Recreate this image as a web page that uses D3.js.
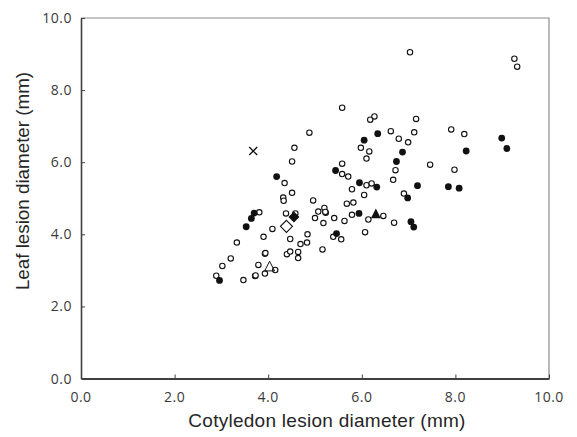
<!DOCTYPE html>
<html lang="en">
<head>
    <meta charset="UTF-8">
    <title>Cotyledon vs leaf lesion diameter</title>
    <script src="https://d3js.org/d3.v7.min.js"></script>
    <style>
        body {
            margin: 0;
            background: white;
        }
        svg {
            display: block;
        }
        .tick-label {
            font-family: "Open Sans", sans-serif;
            font-size: 14px;
            letter-spacing: 0.5px;
            fill: #3a3a3a;
        }
        .axis-title {
            font-family: "Liberation Sans", Arial, sans-serif;
            fill: #262626;
        }
    </style>
</head>
<body>
    <svg id="chart"></svg>

    <script>
        // [cotyledon, leaf] lesion diameters (mm)
        const openCircles = [
            [7.03, 9.05], [9.26, 8.87], [9.32, 8.65], [5.58, 7.51], [6.18, 7.18],
            [6.27, 7.27], [7.16, 7.20], [4.88, 6.82], [6.62, 6.86], [6.79, 6.65],
            [7.12, 6.83], [6.99, 6.55], [7.91, 6.91], [8.19, 6.78], [5.98, 6.40],
            [6.16, 6.30], [6.10, 6.10], [4.56, 6.40], [4.51, 6.02], [7.46, 5.93],
            [7.98, 5.79], [5.58, 5.96], [5.58, 5.67], [5.71, 5.60], [6.72, 5.78],
            [6.67, 5.51], [4.35, 5.42], [6.10, 5.36], [6.21, 5.41], [5.79, 5.25],
            [6.05, 5.09], [4.51, 5.15], [6.90, 5.13], [4.32, 5.02], [4.33, 4.93],
            [4.96, 4.94], [5.68, 4.85], [5.82, 4.88], [5.20, 4.73], [5.07, 4.63],
            [5.23, 4.60], [5.22, 4.62], [3.81, 4.61], [4.38, 4.58], [4.58, 4.58],
            [5.00, 4.45], [5.18, 4.31], [5.41, 4.45], [5.63, 4.37], [5.79, 4.54],
            [6.14, 4.41], [6.46, 4.51], [6.69, 4.32], [4.09, 4.15], [3.90, 3.93],
            [3.33, 3.77], [4.47, 3.87], [4.84, 4.00], [4.69, 3.73], [4.83, 3.77],
            [5.39, 3.93], [5.56, 3.86], [6.07, 4.06], [5.16, 3.58], [3.93, 3.46],
            [3.94, 3.48], [4.40, 3.45], [4.47, 3.52], [4.64, 3.51], [4.64, 3.34],
            [3.20, 3.33], [3.02, 3.12], [3.79, 3.15], [4.15, 3.01], [3.93, 2.91],
            [2.89, 2.85], [3.72, 2.84], [3.73, 2.86], [3.47, 2.73]
        ];

        const filledCircles = [
            [6.34, 6.79], [6.05, 6.61], [8.99, 6.67], [9.10, 6.38], [8.23, 6.31],
            [6.87, 6.28], [6.74, 6.02], [5.44, 5.77], [4.18, 5.60], [5.95, 5.43],
            [6.32, 5.31], [7.19, 5.35], [7.85, 5.32], [8.08, 5.28], [6.98, 5.01],
            [3.70, 4.59], [3.64, 4.44], [3.53, 4.21], [5.94, 4.58], [7.05, 4.35],
            [7.11, 4.20], [5.46, 4.02], [2.96, 2.72]
        ];

        const crossPoints = [[3.68, 6.31]];
        const filledDiamonds = [[4.55, 4.48]];
        const openDiamonds = [[4.39, 4.22]];
        const openTriangles = [[4.03, 3.10]];
        const filledTriangles = [[6.30, 4.56]];

        const xTicks = [0, 2, 4, 6, 8, 10];
        const yTicks = [0, 2, 4, 6, 8, 10];

        const width = 577;
        const height = 437;
        const margin = { top: 18, right: 28, bottom: 58, left: 81 };

        const svg = d3.select('#chart')
            .attr('width', width)
            .attr('height', height);

        const x = d3.scaleLinear()
            .domain([0, 10])
            .range([margin.left, width - margin.right]);

        const y = d3.scaleLinear()
            .domain([0, 10])
            .range([height - margin.bottom - 0.5, margin.top]);

        // top and right frame, light grey
        svg.append('path')
            .attr('d', `M${x(0)},${y(10)} H${x(10)} V${y(0)}`)
            .attr('fill', 'none')
            .attr('stroke', '#8a8a8a')
            .attr('stroke-width', 1.2);

        // x axis
        const xAxis = svg.append('g')
            .attr('transform', `translate(0,${y(0)})`)
            .call(d3.axisBottom(x).tickValues(xTicks).tickSizeInner(-4).tickSizeOuter(0).tickFormat(''));
        xAxis.select('.domain').attr('stroke', '#404040').attr('stroke-width', 2);
        xAxis.selectAll('.tick line').attr('stroke', '#404040').attr('stroke-width', 1);

        svg.append('g').selectAll('text')
            .data(xTicks)
            .join('text')
            .attr('class', 'tick-label')
            .attr('x', d => x(d))
            .attr('y', y(0) + 23)
            .attr('text-anchor', 'middle')
            .text(d => d.toFixed(1));

        // y axis
        const yAxis = svg.append('g')
            .attr('transform', `translate(${x(0)},0)`)
            .call(d3.axisLeft(y).tickValues(yTicks).tickSizeInner(-4).tickSizeOuter(0).tickFormat(''));
        yAxis.select('.domain').attr('stroke', '#404040').attr('stroke-width', 1.6);
        yAxis.selectAll('.tick line').attr('stroke', '#404040').attr('stroke-width', 1);

        svg.append('g').selectAll('text')
            .data(yTicks)
            .join('text')
            .attr('class', 'tick-label')
            .attr('x', x(0) - 9)
            .attr('y', d => y(d))
            .attr('dy', '0.36em')
            .attr('text-anchor', 'end')
            .text(d => d.toFixed(1));

        // axis titles
        svg.append('text')
            .attr('class', 'axis-title')
            .attr('x', 327)
            .attr('y', 427)
            .attr('text-anchor', 'middle')
            .style('font-size', '19px')
            .style('letter-spacing', '0.27px')
            .text('Cotyledon lesion diameter (mm)');

        svg.append('text')
            .attr('class', 'axis-title')
            .attr('transform', `translate(28.5,${181}) rotate(-90)`)
            .attr('text-anchor', 'middle')
            .style('font-size', '18.8px')
            .text('Leaf lesion diameter (mm)');

        const marks = svg.append('g');

        // open circles
        marks.selectAll('circle.open')
            .data(openCircles)
            .join('circle')
            .attr('class', 'open')
            .attr('cx', d => x(d[0]))
            .attr('cy', d => y(d[1]))
            .attr('r', 2.7)
            .attr('fill', 'white')
            .attr('stroke', '#111')
            .attr('stroke-width', 1.1);

        // filled circles
        marks.selectAll('circle.filled')
            .data(filledCircles)
            .join('circle')
            .attr('class', 'filled')
            .attr('cx', d => x(d[0]))
            .attr('cy', d => y(d[1]))
            .attr('r', 3.4)
            .attr('fill', '#111');

        function diamondPath(s) {
            return `M0,${-s} L${s},0 L0,${s} L${-s},0 Z`;
        }
        function trianglePath(s) {
            return `M0,${-s} L${s * 0.9},${s * 0.75} L${-s * 0.9},${s * 0.75} Z`;
        }
        function crossPath(s) {
            return `M${-s},${-s} L${s},${s} M${-s},${s} L${s},${-s}`;
        }

        marks.selectAll('path.odiamond')
            .data(openDiamonds)
            .join('path')
            .attr('class', 'odiamond')
            .attr('transform', d => `translate(${x(d[0])},${y(d[1])})`)
            .attr('d', diamondPath(6))
            .attr('fill', 'white')
            .attr('stroke', '#111')
            .attr('stroke-width', 1.1);

        marks.selectAll('path.fdiamond')
            .data(filledDiamonds)
            .join('path')
            .attr('class', 'fdiamond')
            .attr('transform', d => `translate(${x(d[0])},${y(d[1])})`)
            .attr('d', diamondPath(5.5))
            .attr('fill', '#111');

        marks.selectAll('path.otri')
            .data(openTriangles)
            .join('path')
            .attr('class', 'otri')
            .attr('transform', d => `translate(${x(d[0])},${y(d[1])})`)
            .attr('d', trianglePath(5.5))
            .attr('fill', 'none')
            .attr('stroke', '#111')
            .attr('stroke-width', 1);

        marks.selectAll('path.ftri')
            .data(filledTriangles)
            .join('path')
            .attr('class', 'ftri')
            .attr('transform', d => `translate(${x(d[0])},${y(d[1])})`)
            .attr('d', trianglePath(5.5))
            .attr('fill', '#111');

        marks.selectAll('path.cross')
            .data(crossPoints)
            .join('path')
            .attr('class', 'cross')
            .attr('transform', d => `translate(${x(d[0])},${y(d[1])})`)
            .attr('d', crossPath(4))
            .attr('fill', 'none')
            .attr('stroke', '#111')
            .attr('stroke-width', 1.3);
    </script>
</body>
</html>
